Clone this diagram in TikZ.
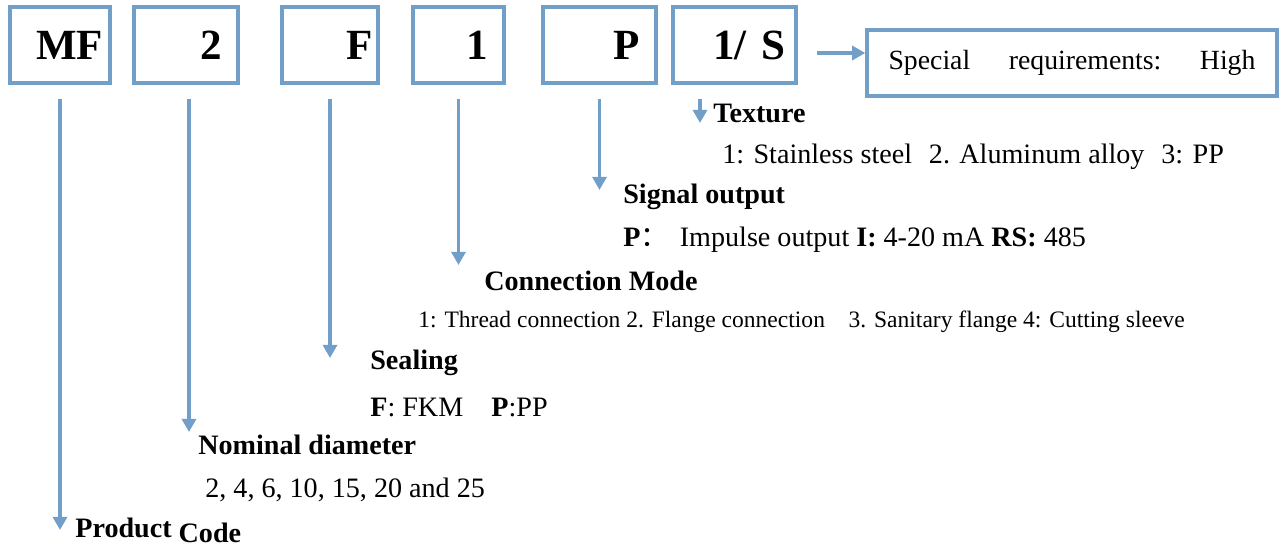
\documentclass[tikz,border=0pt]{standalone}
\usepackage{fontspec}
\setmainfont{Liberation Serif}
\newfontfamily\cjk{Noto Sans CJK SC}
\usetikzlibrary{arrows.meta}
\definecolor{codeblue}{RGB}{114,159,200}

\begin{document}
\begin{tikzpicture}[x=0.02cm, y=-0.02cm,
    codebox/.style={draw=codeblue, line width=2pt, minimum height=1.52cm, align=right,
        font=\fontsize{24.5}{28}\selectfont\bfseries},
    arr/.style={color=codeblue, line width=2pt, -{Triangle[width=8pt,length=7.5pt]}},
    head/.style={anchor=west, inner sep=0pt, font=\fontsize{16}{19}\selectfont\bfseries},
    desc/.style={anchor=west, inner sep=0pt, font=\fontsize{16}{19}\selectfont}]
    \useasboundingbox (0,0) rectangle (1285,547);

    % code boxes
    \node[codebox, text width=1.72cm, inner xsep=0.14cm] (mf)   at (60,45)    {\raisebox{-3pt}{MF}};
    \node[codebox, text width=1.44cm, inner xsep=0.32cm] (dn)   at (186,45)   {\raisebox{-3pt}{2}};
    \node[codebox, text width=1.72cm, inner xsep=0.1cm]  (seal) at (330,45)   {\raisebox{-3pt}{F}};
    \node[codebox, text width=1.18cm, inner xsep=0.32cm] (conn) at (458.5,45) {\raisebox{-3pt}{1}};
    \node[codebox, text width=1.62cm, inner xsep=0.32cm] (sig)  at (599.5,45) {\raisebox{-3pt}{P}};
    \node[codebox, text width=2.02cm, inner xsep=0.22cm] (tex)  at (734.5,45) {\raisebox{-3pt}{1/ S}};

    % special requirements
    \node[draw=codeblue, line width=2pt, minimum width=8.2cm, minimum height=1.32cm,
        inner sep=0pt, font=\fontsize{15.8}{19}\selectfont] (spec) at (1072,63)
        {\makebox[7.34cm]{Special\hfill requirements:\hfill High}};
    \coordinate (s0) at (817,53);
    \draw[arr] (s0) -- (s0 -| spec.west);

    % explanations
    \node[head] (texh) at (713,113) {Texture};
    \node[desc] (texd) at (722,157) {1: Stainless steel\hspace{0.6em}2. Aluminum alloy\hspace{0.6em}3: PP};
    \node[head] (sigh) at (623,197) {Signal output};
    \node[desc] (sigd) at (623,240) {\textbf{P}{\cjk ：}\hspace{0.4em}Impulse output \textbf{I:} 4-20 mA \textbf{RS:} 485};
    \node[head] (connh) at (484,281) {Connection Mode};
    \node[desc, font=\fontsize{13.4}{16}\selectfont] (connd) at (418,322)
        {1: Thread connection 2. Flange connection\hspace{1em}3. Sanitary flange 4: Cutting sleeve};
    \node[head] (sealh) at (370,363) {Sealing};
    \node[desc] (seald) at (370,407) {\textbf{F}: FKM\hspace{1em}\textbf{P}:PP};
    \node[head] (dnh) at (198,445) {Nominal diameter};
    \node[desc] (dnd) at (205,490) {2, 4, 6, 10, 15, 20 and 25};
    \node[head] (mfh) at (75,530) {Product \raisebox{-2.8pt}{Code}};

    % arrows down to the explanations
    \draw[arr] ([yshift=-0.28cm]mf.south) -- (mf.south |- mfh.west);
    \draw[arr] ([xshift=0.06cm,yshift=-0.28cm]dn.south) -- ([xshift=0.06cm,yshift=0.26cm]dn.south |- dnh.west);
    \draw[arr] ([yshift=-0.28cm]seal.south) -- ([yshift=0.1cm]seal.south |- sealh.west);
    \draw[arr] ([yshift=-0.28cm]conn.south) -- ([yshift=0.32cm]conn.south |- connh.west);
    \draw[arr] ([yshift=-0.28cm]sig.south) -- ([yshift=0.14cm]sig.south |- sigh.west);
    \draw[arr] ([xshift=-0.69cm,yshift=-0.28cm]tex.south) -- ([xshift=-0.69cm,yshift=-0.2cm]tex.south |- texh.west);
\end{tikzpicture}
\end{document}
